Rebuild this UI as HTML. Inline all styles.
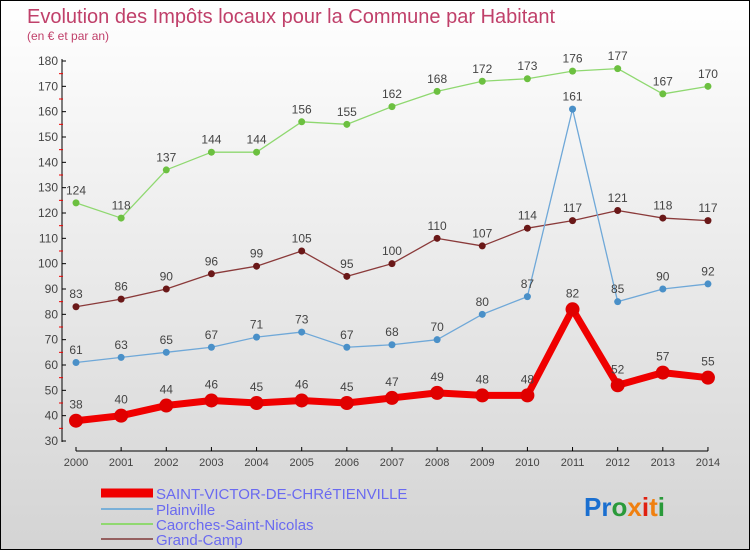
<!DOCTYPE html>
<html><head><meta charset="utf-8"><style>
body{margin:0;}
#c{width:750px;height:550px;position:relative;overflow:hidden;background:linear-gradient(#fff 0%,#f2f2f2 30%,#d4d4d4 100%);border:1px solid #000;box-sizing:border-box;font-family:"Liberation Sans",sans-serif;}
svg{position:absolute;left:0;top:0;}
</style></head><body>
<div id="c">
<svg id="s" width="750" height="550">
<text x="26" y="22" font-size="20" fill="#c0406a">Evolution des Impôts locaux pour la Commune par Habitant</text>
<text x="26" y="39" font-size="12" fill="#c0406a">(en € et par an)</text>
<text x="583" y="515" font-size="26" font-weight="bold"><tspan fill="#1a6fd0">Pr</tspan><tspan fill="#2a9a3a">o</tspan><tspan fill="#f08010">x</tspan><tspan fill="#e02010">i</tspan><tspan fill="#f08010">t</tspan><tspan fill="#2a9a3a">i</tspan></text>
</svg>
</div>
<script>
const years=[2000,2001,2002,2003,2004,2005,2006,2007,2008,2009,2010,2011,2012,2013,2014];
const saintVictor=[38,40,44,46,45,46,45,47,49,48,48,82,52,57,55];
const plainville=[61,63,65,67,71,73,67,68,70,80,87,161,85,90,92];
const caorches=[124,118,137,144,144,156,155,162,168,172,173,176,177,167,170];
const grandCamp=[83,86,90,96,99,105,95,100,110,107,114,117,121,118,117];
const yTicks=[30,40,50,60,70,80,90,100,110,120,130,140,150,160,170,180];
const seriesNames=["SAINT-VICTOR-DE-CHRéTIENVILLE","Plainville","Caorches-Saint-Nicolas","Grand-Camp"];
const NS="http://www.w3.org/2000/svg";
const svg=document.getElementById('s');
const xS=i=>75+i*45.14;
const yS=v=>440-(v-30)*380/150;
function mk(t,a,p){const e=document.createElementNS(NS,t);for(const k in a)e.setAttribute(k,a[k]);(p||svg).appendChild(e);return e;}
// axes
let ax=mk('line',{x1:61,y1:58,x2:61,y2:441,stroke:'#000','stroke-width':1});

let bx=mk('line',{x1:75,y1:450,x2:707,y2:450,stroke:'#000','stroke-width':1});

yTicks.forEach((v,i)=>{
  mk('line',{x1:61,y1:yS(v),x2:65,y2:yS(v),stroke:'#000'});
  if(i<yTicks.length-1)mk('line',{x1:58,y1:yS(v+5),x2:62,y2:yS(v+5),stroke:'#e00'});
  const t=mk('text',{x:57,y:yS(v)+4,'font-size':12,fill:'#444','text-anchor':'end'});t.textContent=v;
  
});
years.forEach((y,i)=>{
  mk('line',{x1:xS(i),y1:446,x2:xS(i),y2:450,stroke:'#000'});
  const t=mk('text',{x:xS(i),y:465,'font-size':11,fill:'#444','text-anchor':'middle'});t.textContent=y;
  
});
function series(data,color,dot,w,r,name){
  const g=mk('g',{});
  mk('polyline',{points:data.map((v,i)=>xS(i)+','+yS(v)).join(' '),fill:'none',stroke:color,'stroke-width':w,'stroke-linejoin':'round'},g);
  data.forEach((v,i)=>{
    const c=mk('circle',{cx:xS(i),cy:yS(v),r:r,fill:dot},g);
    
    const t=mk('text',{x:xS(i),y:yS(v)-(r+5),'font-size':12,fill:'#444','text-anchor':'middle'},g);t.textContent=v;
    
  });
}
series(caorches,'#8fd870','#6cc040',1.3,3.5,'caorches-series');
series(grandCamp,'#8a3a3a','#6a1818',1.3,3.5,'grand-camp-series');
series(plainville,'#6fa8d8','#4a90c8',1.3,3.5,'plainville-series');
series(saintVictor,'#f00000','#e00000',7,7,'saint-victor-series');
const legColors=['#f00000','#7ab0d8','#90d870','#956060'];
const legW=[9,2,2,2];
const legY=[492,508,523,538];
seriesNames.forEach((n,i)=>{
  const l=mk('line',{x1:100,y1:legY[i],x2:152,y2:legY[i],stroke:legColors[i],'stroke-width':legW[i]});
  
  const t=mk('text',{x:155,y:legY[i]+6,'font-size':15,fill:'#6a6af0'});t.textContent=n;
  
});
</script>
</body></html>
